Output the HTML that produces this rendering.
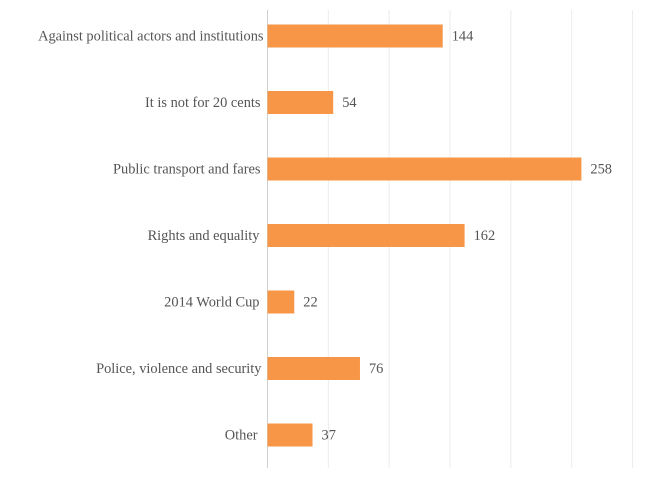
<!DOCTYPE html>
<html>
<head>
<meta charset="utf-8">
<title>Protest topics</title>
<style>
html,body{margin:0;padding:0;background:#fff;width:650px;height:499px;overflow:hidden}
svg{display:block}
text{font-family:"Liberation Serif",serif;font-size:14.4px;fill:#555555}
</style>
</head>
<body>
<svg id="chart" width="650" height="499" viewBox="0 0 650 499" xmlns="http://www.w3.org/2000/svg"></svg>
<script>
const categories = ["Against political actors and institutions","It is not for 20 cents","Public transport and fares","Rights and equality","2014 World Cup","Police, violence and security","Other"];
const seriesValues = [144,54,258,162,22,76,37];
const gridTicks = [0,50,100,150,200,250,300];
const labelGaps = [4,7,7,8,8,6,10];

const NS = "http://www.w3.org/2000/svg";
const svg = document.getElementById("chart");
const xScale = v => 267.5 + v * (632.5 - 267.5) / 300;
const yScale = i => 36 + i * 66.5;

function mk(tag, attrs, text) {
  const el = document.createElementNS(NS, tag);
  for (const k in attrs) el.setAttribute(k, attrs[k]);
  if (text !== undefined) el.textContent = text;
  svg.appendChild(el);
  return el;
}

gridTicks.forEach((t, i) => {
  const line = mk("line", {x1: xScale(t), x2: xScale(t), y1: 10, y2: 468, stroke: i === 0 ? "#cfcfcf" : "#ececec", "stroke-width": 1});
  
  
});

categories.forEach((c, i) => {
  const y = yScale(i);
  const bar = mk("rect", {x: xScale(0), y: y - 11.5, width: xScale(seriesValues[i]) - xScale(0), height: 23, fill: "#f79646"});
  
  

  const label = mk("text", {x: xScale(0) - labelGaps[i], y: y + 4.5, "text-anchor": "end"}, c);
  
  

  const value = mk("text", {x: xScale(seriesValues[i]) + 9, y: y + 4.5}, String(seriesValues[i]));
  
  
});
</script>
</body>
</html>
